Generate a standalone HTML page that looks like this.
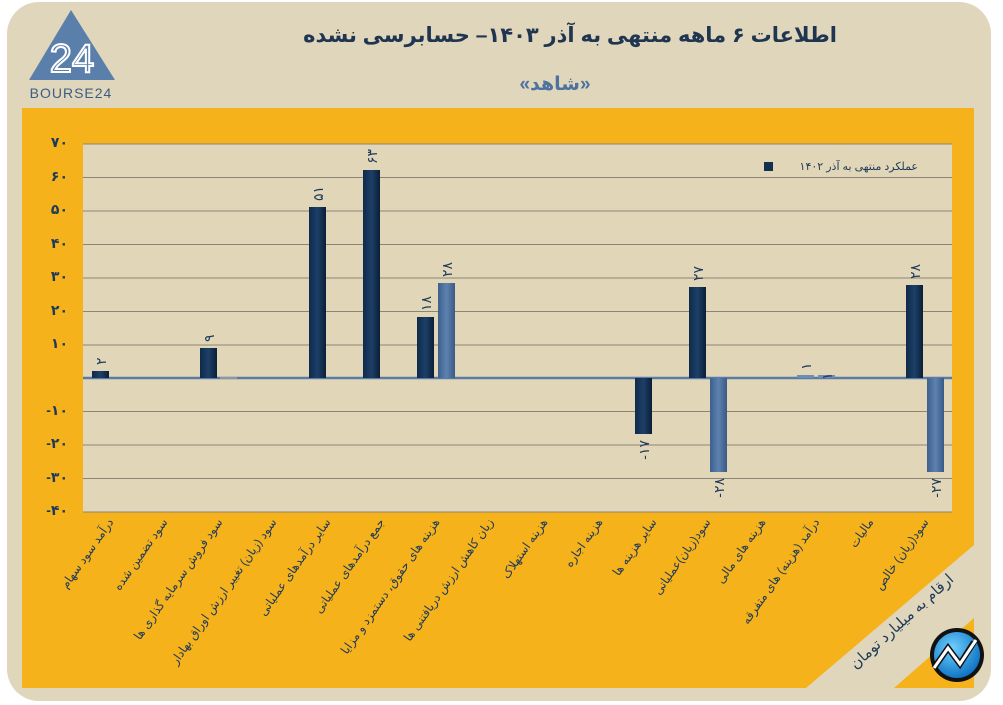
<!DOCTYPE html>
<html><head><meta charset="utf-8"><style>
html,body{margin:0;padding:0;background:#fff;}
svg{display:block;}
text{font-family:"Liberation Sans","Noto Sans CJK SC","DejaVu Sans",sans-serif;}
.v text{unicode-bidi:bidi-override;direction:ltr;}
</style></head><body>
<svg width="1003" height="705" viewBox="0 0 1003 705" xmlns="http://www.w3.org/2000/svg">
<defs>
<linearGradient id="dk" x1="0" x2="1"><stop offset="0" stop-color="#0f2a4a"/><stop offset="0.5" stop-color="#1d3f68"/><stop offset="1" stop-color="#0a1f38"/></linearGradient>
<linearGradient id="lt" x1="0" x2="1"><stop offset="0" stop-color="#3d5f8c"/><stop offset="0.5" stop-color="#5e82b0"/><stop offset="1" stop-color="#3a5a86"/></linearGradient>
<radialGradient id="lg" cx="0.4" cy="0.35" r="0.7"><stop offset="0" stop-color="#6fd0ff"/><stop offset="1" stop-color="#0a6fc0"/></radialGradient>
</defs>
<rect x="7" y="2" width="984" height="699" rx="32" fill="#e0d6bb"/>
<polygon points="71,10 29,80 115,80" fill="#5a7fab"/>
<text x="72" y="72" font-size="40" fill="none" stroke="#fff" stroke-width="2" text-anchor="middle">24</text>
<text x="71" y="98" font-size="14" fill="#3b5d86" text-anchor="middle" letter-spacing="1">BOURSE24</text>
<text x="570" y="42" font-size="21" font-weight="bold" fill="#1f3550" text-anchor="middle" direction="rtl">اطلاعات ۶ ماهه منتهی به آذر ۱۴۰۳– حسابرسی نشده</text>
<text x="555" y="90" font-size="19" font-weight="bold" fill="#4d72a0" text-anchor="middle" direction="rtl">«شاهد»</text>
<polygon points="22,108 974,108 974,545 806,688 22,688" fill="#f6b21b"/>
<polygon points="894,688 974,688 974,618" fill="#f6b21b"/>
<rect x="83" y="144" width="869" height="368" fill="#e2d6b8"/>
<g stroke="#8a8577" stroke-width="1">
<line x1="83" y1="144" x2="952" y2="144"/>
<line x1="83" y1="177.5" x2="952" y2="177.5"/>
<line x1="83" y1="211" x2="952" y2="211"/>
<line x1="83" y1="244.5" x2="952" y2="244.5"/>
<line x1="83" y1="278" x2="952" y2="278"/>
<line x1="83" y1="311.5" x2="952" y2="311.5"/>
<line x1="83" y1="345" x2="952" y2="345"/>
<line x1="83" y1="411.5" x2="952" y2="411.5"/>
<line x1="83" y1="445" x2="952" y2="445"/>
<line x1="83" y1="478.5" x2="952" y2="478.5"/>
<line x1="83" y1="512" x2="952" y2="512"/>
</g>
<line x1="83" y1="378" x2="952" y2="378" stroke="#5a7ba5" stroke-width="2.5"/>
<g font-size="14" font-weight="bold" fill="#1e3a5a" text-anchor="end">
<text x="68" y="147">۷۰</text><text x="68" y="181">۶۰</text><text x="68" y="214">۵۰</text>
<text x="68" y="248">۴۰</text><text x="68" y="281">۳۰</text><text x="68" y="315">۲۰</text>
<text x="68" y="348">۱۰</text><text x="68" y="415">-۱۰</text><text x="68" y="448">-۲۰</text>
<text x="68" y="482">-۳۰</text><text x="68" y="515">-۴۰</text>
</g>
<g>
<rect x="92" y="371" width="17" height="7" fill="url(#dk)"/>
<rect x="200" y="348" width="17" height="30" fill="url(#dk)"/>
<rect x="220" y="377" width="17" height="2" fill="#8a98a8"/>
<rect x="309" y="207" width="17" height="171" fill="url(#dk)"/>
<rect x="363" y="170" width="17" height="208" fill="url(#dk)"/>
<rect x="417" y="317" width="17" height="61" fill="url(#dk)"/>
<rect x="438" y="283" width="17" height="95" fill="url(#lt)"/>
<rect x="635" y="378" width="17" height="56" fill="url(#dk)"/>
<rect x="689" y="287" width="17" height="91" fill="url(#dk)"/>
<rect x="710" y="378" width="17" height="94" fill="url(#lt)"/>
<rect x="797" y="375" width="17" height="3" fill="#6f8cb3"/>
<rect x="818" y="375" width="17" height="3" fill="#6f8cb3"/>
<rect x="906" y="285" width="17" height="93" fill="url(#dk)"/>
<rect x="927" y="378" width="17" height="94" fill="url(#lt)"/>
</g>
<g class="v" font-size="14" fill="#1e3a5a">
<text transform="translate(106,365) rotate(-90)">۲</text>
<text transform="translate(214,342) rotate(-90)">۹</text>
<text transform="translate(323,201) rotate(-90)">۵۱</text>
<text transform="translate(377,164) rotate(-90)">۶۳</text>
<text transform="translate(431,311) rotate(-90)">۱۸</text>
<text transform="translate(452,277) rotate(-90)">۲۸</text>
<text transform="translate(649,440) rotate(-90)" text-anchor="end">-۱۷</text>
<text transform="translate(703,281) rotate(-90)">۲۷</text>
<text transform="translate(724,478) rotate(-90)" text-anchor="end">-۲۸</text>
<text transform="translate(811,370) rotate(-90)">۱</text>
<text transform="translate(832,380) rotate(-90)">۱</text>
<text transform="translate(920,279) rotate(-90)">۲۸</text>
<text transform="translate(941,478) rotate(-90)" text-anchor="end">-۲۷</text>
</g>
<rect x="764" y="162" width="9" height="9" fill="#13304f"/>
<text x="918" y="170" font-size="11" fill="#1e3a5a" text-anchor="start" direction="rtl">عملکرد منتهی به آذر ۱۴۰۲</text>
<g font-size="12" fill="#1e3a5a" text-anchor="start" direction="rtl">
<text transform="translate(114,522) rotate(-55)">درآمد سود سهام</text>
<text transform="translate(168,522) rotate(-55)">سود تضمین شده</text>
<text transform="translate(223,522) rotate(-55)">سود فروش سرمایه گذاری ها</text>
<text transform="translate(277,522) rotate(-55)">سود (زیان) تغییر ارزش اوراق بهادار</text>
<text transform="translate(331,522) rotate(-55)">سایر درآمدهای عملیاتی</text>
<text transform="translate(385,522) rotate(-55)">جمع درآمدهای عملیاتی</text>
<text transform="translate(440,522) rotate(-55)">هزینه های حقوق، دستمزد و مزایا</text>
<text transform="translate(494,522) rotate(-55)">زیان کاهش ارزش دریافتنی ها</text>
<text transform="translate(548,522) rotate(-55)">هزینه استهلاک</text>
<text transform="translate(603,522) rotate(-55)">هزینه اجاره</text>
<text transform="translate(657,522) rotate(-55)">سایر هزینه ها</text>
<text transform="translate(711,522) rotate(-55)">سود(زیان)عملیاتی</text>
<text transform="translate(766,522) rotate(-55)">هزینه های مالی</text>
<text transform="translate(820,522) rotate(-55)">درآمد (هزینه) های متفرقه</text>
<text transform="translate(874,522) rotate(-55)">مالیات</text>
<text transform="translate(929,522) rotate(-55)">سود(زیان) خالص</text>
</g>
<text transform="translate(905,625) rotate(-42)" font-size="15" fill="#1e3a5a" text-anchor="middle" direction="rtl">ارقام به میلیارد تومان</text>
<circle cx="957" cy="655" r="27" fill="#111"/>
<circle cx="957" cy="655" r="23" fill="url(#lg)"/>
<polyline points="934,668 948,648 960,664 974,642" fill="none" stroke="#111" stroke-width="6"/>
<polyline points="934,668 948,648 960,664 976,640" fill="none" stroke="#fff" stroke-width="3"/>
</svg>
</body></html>
